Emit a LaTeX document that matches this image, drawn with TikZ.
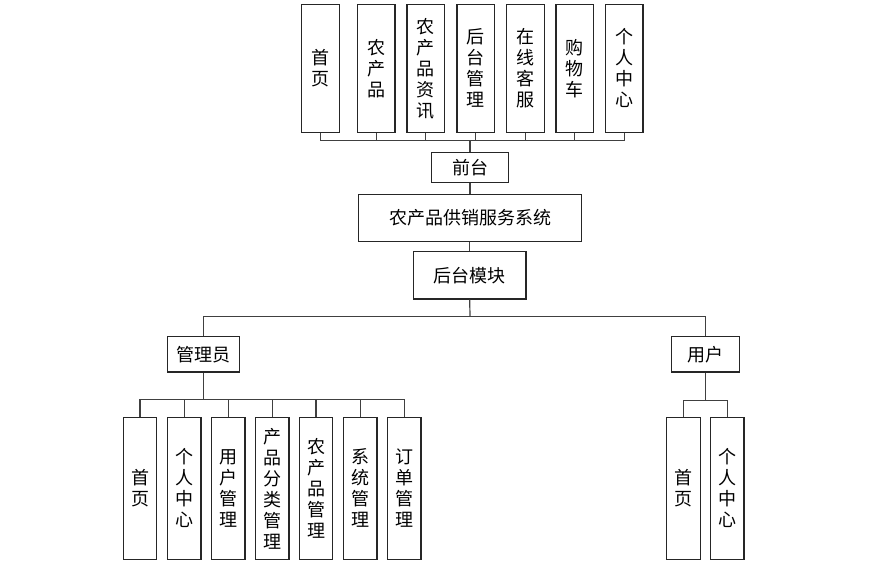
\documentclass[tikz,border=0pt]{standalone}
\usepackage{fontspec}
\setmainfont{Noto Sans CJK SC}
\usepackage{tikz}

\tikzset{
  box/.style={draw=black!85, line width=1.2pt, fill=white, inner sep=0pt, align=center,
    font=\fontsize{18}{21}\selectfont},
  topbox/.style={box, minimum width=37.5pt, minimum height=128pt},
  subbox/.style={box, minimum width=33.5pt, minimum height=142pt},
  link/.style={draw=black!75, line width=1.2pt}
}

\begin{document}
\begin{tikzpicture}[x=1pt, y=-1pt]

		\useasboundingbox (0,0) rectangle (885,568);

		% modules du front
		\node[topbox] (shouye) at (320.5,68.3) {首\\页};
		\node[topbox] (nongchan) at (376.2,68.3) {农\\产\\品};
		\node[topbox] (zixun) at (425.8,68.3) {农\\产\\品\\资\\讯};
		\node[topbox] (houtai) at (475.7,68.3) {后\\台\\管\\理};
		\node[topbox] (kefu) at (525.5,68.3) {在\\线\\客\\服};
		\node[topbox] (gouwu) at (574.8,68.3) {购\\物\\车};
		\node[topbox] (geren) at (624.3,68.3) {个\\人\\中\\心};

		% tronc
		\node[box, minimum width=76.6pt, minimum height=30pt] (qiantai) at (470,167.3) {前台};
		\node[box, minimum width=223.7pt, minimum height=47.4pt] (xitong) at (470,218) {农产品供销服务系统};
		\node[box, minimum width=112.7pt, minimum height=47.3pt] (mokuai) at (469.7,275.4) {后台模块};

		\node[box, minimum width=71.6pt, minimum height=35.3pt] (guanli) at (203.5,354.3) {管理员};
		\node[box, minimum width=67.6pt, minimum height=35.3pt] (yonghu) at (705.5,354.3) {用户};

		% modules de l'administrateur
		\node[subbox] (gsy) at (140,488.4) {首\\页};
		\node[subbox] (ggr) at (184.2,488.4) {个\\人\\中\\心};
		\node[subbox] (gyh) at (228.3,488.4) {用\\户\\管\\理};
		\node[subbox] (gfl) at (272.3,488.4) {产\\品\\分\\类\\管\\理};
		\node[subbox] (gnc) at (316,488.4) {农\\产\\品\\管\\理};
		\node[subbox] (gxt) at (360.3,488.4) {系\\统\\管\\理};
		\node[subbox] (gdd) at (404.3,488.4) {订\\单\\管\\理};

		% modules de l'utilisateur
		\node[subbox] (ysy) at (683.5,488.4) {首\\页};
		\node[subbox] (ygr) at (727.2,488.4) {个\\人\\中\\心};

		% liaisons
		\coordinate (qbus) at (470,140.3);
		\coordinate (hbus) at (470,316.7);
		\coordinate (gbus) at (203.5,399.3);
		\coordinate (ybus) at (705.5,400.3);

		\draw[link] (shouye.south) |- (qbus);
		\draw[link] (geren.south) |- (qbus);
		\draw[link] (nongchan.south) -- (nongchan.south |- qbus);
		\draw[link] (zixun.south) -- (zixun.south |- qbus);
		\draw[link] (houtai.south) -- (houtai.south |- qbus);
		\draw[link] (kefu.south) -- (kefu.south |- qbus);
		\draw[link] (gouwu.south) -- (gouwu.south |- qbus);
		\draw[link, line width=1.6pt] (qbus) -- (qiantai.north);

		\draw[link] (qiantai.south) -- (xitong.north -| qiantai.south);
		\draw[link] (xitong.south -| mokuai.north) -- (mokuai.north);

		\draw[link] (mokuai.south) -- (hbus);
		\draw[link] (hbus) -| (guanli.north);
		\draw[link] (hbus) -| (yonghu.north);

		\draw[link] (guanli.south) -- (gbus);
		\draw[link] (gbus) -| (gsy.north);
		\draw[link] (gbus) -| (ggr.north);
		\draw[link] (gbus) -| (gyh.north);
		\draw[link] (gbus) -| (gfl.north);
		\draw[link] (gbus) -| (gnc.north);
		\draw[link] (gbus) -| (gxt.north);
		\draw[link] (gbus) -| (gdd.north);

		\draw[link] (yonghu.south) -- (ybus);
		\draw[link] (ybus) -| (ysy.north);
		\draw[link] (ybus) -| (ygr.north);

	\end{tikzpicture}
\end{document}
